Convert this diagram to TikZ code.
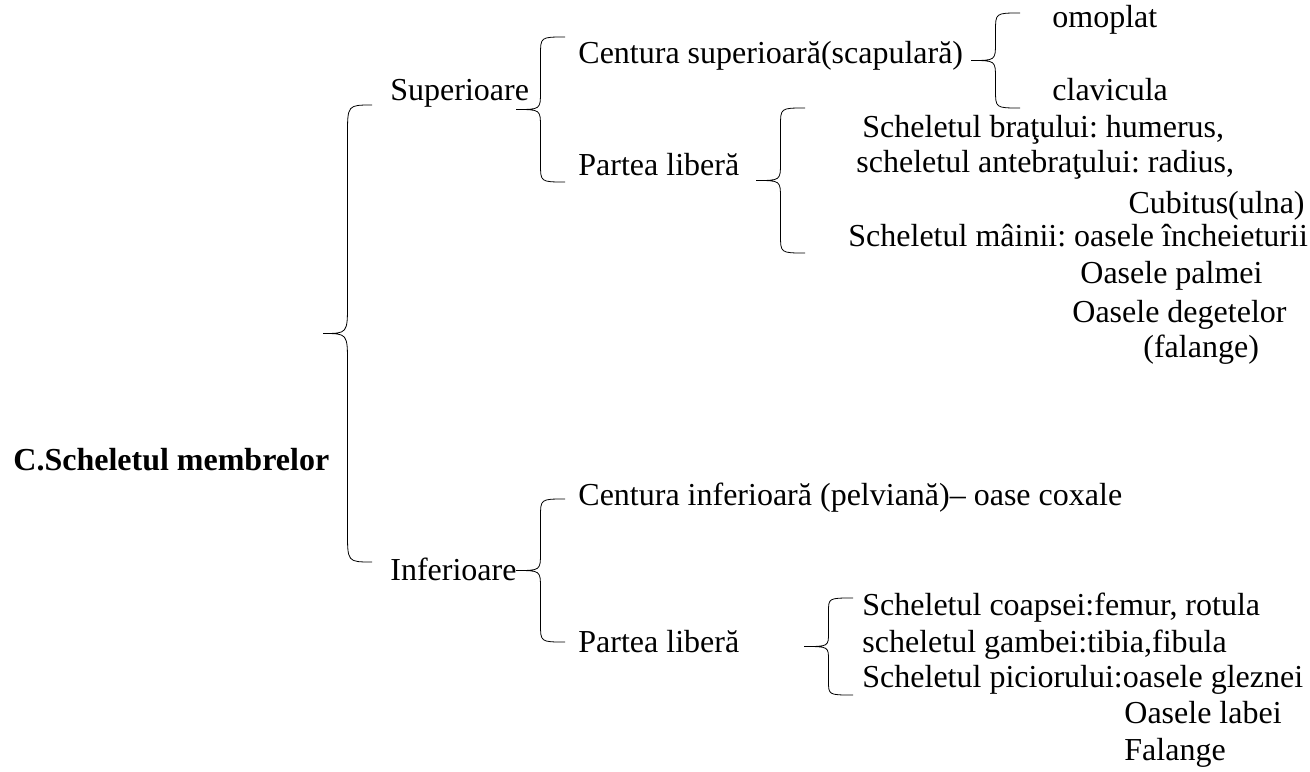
\documentclass[tikz,border=0pt]{standalone}
\usepackage{fontspec}
\setmainfont{Liberation Serif}
\usetikzlibrary{calc}

\begin{document}
\begin{tikzpicture}[x=0.5pt, y=-0.5pt,
        every node/.style={inner sep=0pt, anchor=base west, font=\fontsize{16}{19}\selectfont\frenchspacing},
        brc/.style={line width=1.1pt, to path={let \p1=(\tikztostart), \p2=(\tikztotarget), \p3=($(\tikztostart)!.5!(\tikztotarget)$) in
                (\p1) .. controls (\x1-12.25pt,\y1) .. (\x1-12.25pt,\y1-#1)
                -- (\x1-12.25pt,\y3+#1) .. controls (\x1-12.25pt,\y3) .. (\x1-24.5pt,\y3)
                .. controls (\x1-12.25pt,\y3) .. (\x1-12.25pt,\y3-#1)
                -- (\x1-12.25pt,\y2+#1) .. controls (\x1-12.25pt,\y2) .. (\p2)}},
        brc/.default=9pt]
                \useasboundingbox (0,0) rectangle (1310,771);
                \node (root) at (13,470) {\textbf{C.Scheletul membrelor}};
                \node (sup) at (390,100) {Superioare};
                \node (inf) at (390,580) {Inferioare};
                \node (cs) at (578,63) {Centura superioară(scapulară)};
                \node (pl1) at (578,175) {Partea liberă};
                \node (om) at (1052,27) {omoplat};
                \node (cl) at (1052,100) {clavicula};
                \node (br) at (862,137) {Scheletul braţului: humerus,};
                \node (ab) at (856,172) {scheletul antebraţului: radius,};
                \node[anchor=base east] (cu) at (1305,213) {Cubitus(ulna)};
                \node (mn) at (848,246) {Scheletul mâinii: oasele încheieturii};
                \node (pa) at (1080,283) {Oasele palmei};
                \node (dg) at (1072,322) {Oasele degetelor};
                \node (fa) at (1143,357) {(falange)};
                \node (ci) at (578,505) {Centura inferioară (pelviană)– oase coxale};
                \node (pl2) at (578,652) {Partea liberă};
                \node (co) at (862,615) {Scheletul coapsei:femur, rotula};
                \node (ga) at (862,652) {scheletul gambei:tibia,fibula};
                \node (pc) at (862,687) {Scheletul piciorului:oasele gleznei};
                \node (lb) at (1124,723) {Oasele labei};
                \node (fl) at (1124,760) {Falange};
                \coordinate (rootT) at (372,105);
                \coordinate (rootB) at (372,562);
                \coordinate (supT) at (565,37);
                \coordinate (supB) at (565,182);
                \coordinate (csT) at (1020,13);
                \coordinate (csB) at (1020,108);
                \coordinate (pl1T) at (805,108);
                \coordinate (pl1B) at (805,253);
                \coordinate (infT) at (565,499);
                \coordinate (infB) at (565,642);
                \coordinate (pl2T) at (853,598);
                \coordinate (pl2B) at (853,695);
                \draw (rootT) to[brc=15pt] (rootB);
                \draw (supT) to[brc] (supB);
                \draw (csT) to[brc] (csB);
                \draw (pl1T) to[brc] (pl1B);
                \draw (infT) to[brc] (infB);
                \draw (pl2T) to[brc=7pt] (pl2B);
        \end{tikzpicture}
\end{document}
